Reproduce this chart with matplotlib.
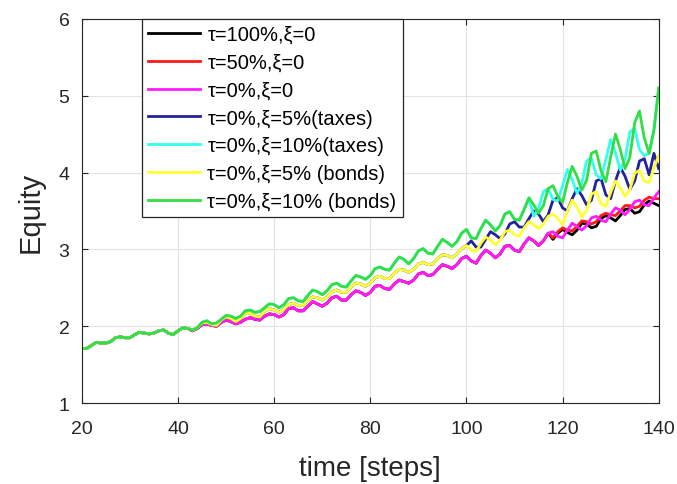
import matplotlib
matplotlib.use("Agg")
import matplotlib.pyplot as plt

# time axis (one value per step)
steps = list(range(20, 141))

# steps 20..42, all scenarios still on top of each other
early = [1.71, 1.71, 1.75, 1.79, 1.78, 1.78, 1.80, 1.85, 1.86, 1.85,
         1.85, 1.89, 1.92, 1.91, 1.90, 1.91, 1.94, 1.95, 1.91, 1.89,
         1.94, 1.98, 1.97]

# steps 43..140
green_rest = [1.95, 1.98, 2.05, 2.07, 2.03, 2.04, 2.09,
              2.14, 2.13, 2.10, 2.13, 2.20, 2.21, 2.18, 2.19, 2.24, 2.29,
              2.28, 2.24, 2.28, 2.36, 2.37, 2.33, 2.32, 2.40, 2.47, 2.45,
              2.41, 2.46, 2.54, 2.56, 2.52, 2.51, 2.59, 2.66, 2.64, 2.61,
              2.66, 2.75, 2.77, 2.74, 2.73, 2.82, 2.90, 2.87, 2.81, 2.88,
              2.98, 3.01, 2.95, 2.94, 3.04, 3.13, 3.09, 3.04, 3.10, 3.21,
              3.26, 3.15, 3.14, 3.27, 3.38, 3.32, 3.24, 3.31, 3.46, 3.49,
              3.39, 3.38, 3.52, 3.67, 3.58, 3.47, 3.57, 3.79, 3.83, 3.69,
              3.61, 3.87, 4.08, 3.95, 3.77, 3.90, 4.25, 4.28, 4.02, 3.88,
              4.20, 4.50, 4.30, 4.05, 4.20, 4.65, 4.80, 4.45, 4.25, 4.55, 5.10]

magenta_rest = [1.94, 1.97, 2.02, 2.03, 2.01, 2.00, 2.05,
                2.08, 2.06, 2.03, 2.05, 2.09, 2.11, 2.09, 2.08, 2.13, 2.16,
                2.15, 2.12, 2.15, 2.23, 2.24, 2.20, 2.20, 2.26, 2.32, 2.29,
                2.26, 2.30, 2.37, 2.39, 2.34, 2.34, 2.41, 2.46, 2.44, 2.40,
                2.44, 2.52, 2.53, 2.49, 2.48, 2.55, 2.60, 2.58, 2.56, 2.60,
                2.68, 2.70, 2.66, 2.67, 2.74, 2.80, 2.78, 2.75, 2.80, 2.88,
                2.91, 2.85, 2.82, 2.92, 2.99, 2.95, 2.89, 2.94, 3.04, 3.05,
                2.99, 2.97, 3.07, 3.15, 3.11, 3.05, 3.11, 3.21, 3.23, 3.17,
                3.15, 3.25, 3.34, 3.30, 3.25, 3.31, 3.41, 3.43, 3.38, 3.36,
                3.46, 3.54, 3.51, 3.45, 3.52, 3.62, 3.64, 3.58, 3.57, 3.67, 3.75]

yellow_rest = [1.95, 1.98, 2.04, 2.05, 2.02, 2.01, 2.08,
               2.12, 2.10, 2.06, 2.10, 2.16, 2.17, 2.13, 2.12, 2.19, 2.23,
               2.21, 2.18, 2.22, 2.28, 2.30, 2.27, 2.27, 2.34, 2.38, 2.37,
               2.34, 2.38, 2.45, 2.47, 2.44, 2.44, 2.51, 2.56, 2.55, 2.52,
               2.56, 2.63, 2.65, 2.62, 2.62, 2.69, 2.74, 2.73, 2.70, 2.74,
               2.81, 2.83, 2.80, 2.81, 2.88, 2.93, 2.92, 2.89, 2.94, 3.01,
               3.05, 2.99, 2.97, 3.08, 3.16, 3.12, 3.06, 3.12, 3.23, 3.25,
               3.19, 3.17, 3.28, 3.36, 3.32, 3.27, 3.33, 3.43, 3.46, 3.40,
               3.32, 3.50, 3.64, 3.55, 3.42, 3.51, 3.72, 3.75, 3.59, 3.56,
               3.74, 3.89, 3.80, 3.69, 3.78, 3.99, 4.03, 3.89, 3.87, 4.06, 4.22]

# steps 118..140
red_tail = [3.15, 3.23, 3.28, 3.25, 3.24, 3.30, 3.37, 3.36, 3.33, 3.36,
            3.44, 3.47, 3.45, 3.44, 3.50, 3.57, 3.57, 3.54, 3.56, 3.64,
            3.68, 3.66, 3.66]
black_tail = [3.13, 3.21, 3.26, 3.22, 3.19, 3.25, 3.34, 3.33, 3.28, 3.30,
              3.40, 3.44, 3.41, 3.37, 3.44, 3.52, 3.53, 3.47, 3.49, 3.58,
              3.63, 3.60, 3.57]

# steps 101..140
blue_tail = [3.11, 3.03, 3.03, 3.13, 3.23, 3.19, 3.14, 3.20, 3.33, 3.36,
             3.29, 3.29, 3.40, 3.50, 3.46, 3.36, 3.45, 3.64, 3.67, 3.54,
             3.50, 3.66, 3.79, 3.70, 3.58, 3.64, 3.89, 3.92, 3.71, 3.66,
             3.89, 4.07, 3.95, 3.78, 3.89, 4.15, 4.18, 3.97, 4.25, 4.05]

# steps 114..137
cyan_tail = [3.43, 3.53, 3.75, 3.79, 3.65, 3.63, 3.83, 4.04, 3.91, 3.73,
             3.86, 4.15, 4.19, 3.97, 3.92, 4.17, 4.43, 4.26, 4.03, 4.18,
             4.53, 4.57, 4.30, 4.22]

labels = [u"\u03c4=100%,\u03be=0",
          u"\u03c4=50%,\u03be=0",
          u"\u03c4=0%,\u03be=0",
          u"\u03c4=0%,\u03be=5%(taxes)",
          u"\u03c4=0%,\u03be=10%(taxes)",
          u"\u03c4=0%,\u03be=5% (bonds)",
          u"\u03c4=0%,\u03be=10% (bonds)"]
colors = ["black", "#ff1a1a", "#ff1aff", "#22229a", "#33ffee", "#ffff33", "#33dd44"]


def build_series():
    """Puts the shared start and the per-scenario pieces together."""
    green = early + green_rest
    magenta = early + magenta_rest
    yellow = early + yellow_rest
    red = magenta[:118 - 20] + red_tail
    black = magenta[:118 - 20] + black_tail
    blue = yellow[:101 - 20] + blue_tail
    cyan = green[:114 - 20] + cyan_tail + green[138 - 20:]
    return [black, red, magenta, blue, cyan, yellow, green]


def main():
    plt.rcParams['font.family'] = ['Liberation Sans', 'DejaVu Sans']
    fig = plt.figure(figsize=(6.77, 4.85), dpi=100, facecolor='w')
    ax = fig.add_axes([0.121, 0.167, 0.852, 0.792])

    for values, color, label in zip(build_series(), colors, labels):
        ax.plot(steps, values, color=color, lw=2.0, label=label,
                solid_joinstyle='round')

    ax.set_xlim(20, 140)
    ax.set_ylim(1, 6)
    ax.set_xticks(range(20, 141, 20))
    ax.set_yticks(range(1, 7))
    ax.grid(True, color='#e4e4e4', lw=0.8)
    ax.set_axisbelow(True)
    for spine in ax.spines.values():
        spine.set_color('#262626')
        spine.set_linewidth(0.8)
    ax.tick_params(direction='in', top=True, right=True, length=4,
                   labelsize=14, colors='#262626')
    ax.tick_params(axis='x', pad=12)
    ax.tick_params(axis='y', pad=9)
    ax.set_xlabel("time [steps]", fontsize=20, color='#262626', labelpad=13)
    ax.set_ylabel("Equity", fontsize=21, color='#262626', labelpad=10)

    leg = ax.legend(loc='upper left', bbox_to_anchor=(0.104, 1.0),
                    borderaxespad=0, fontsize=14.5, fancybox=False,
                    framealpha=1, edgecolor='#262626', handlelength=2.6,
                    labelspacing=0.44, handletextpad=0.35, borderpad=0.3)
    leg.get_frame().set_linewidth(0.9)

    fig.savefig("out.png", dpi=100)


if __name__ == '__main__':
    main()
